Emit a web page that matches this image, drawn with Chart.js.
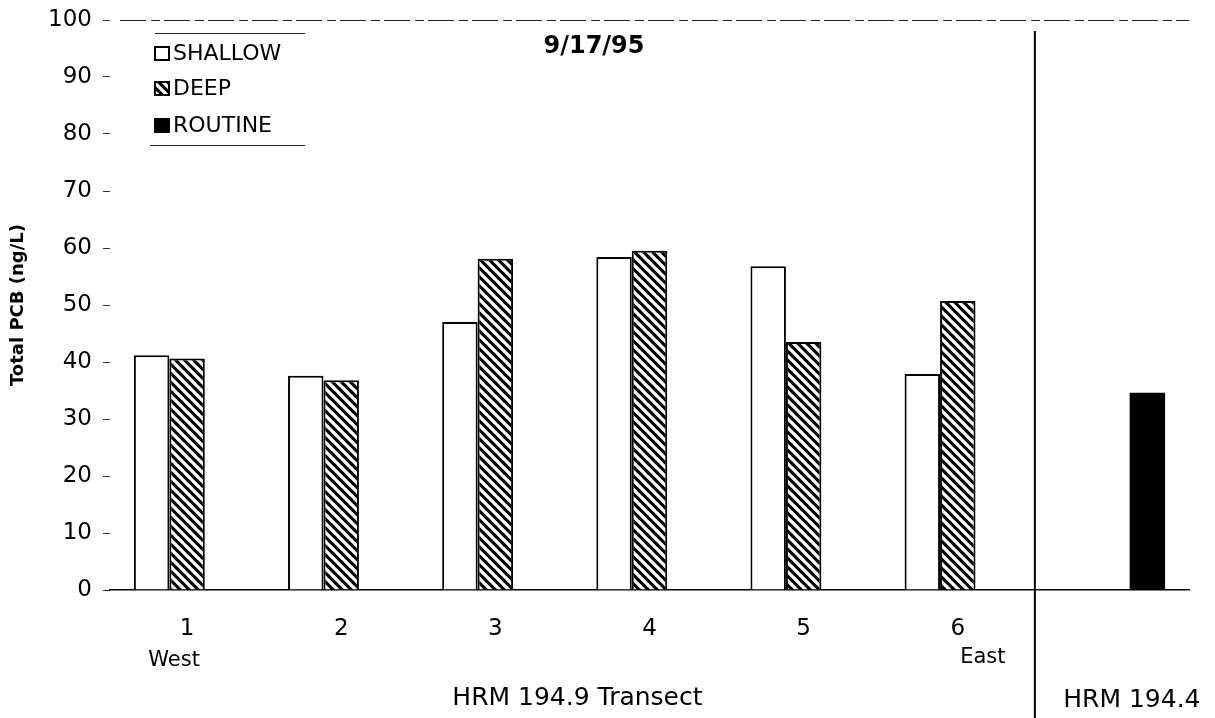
<!DOCTYPE html>
<html>
<head>
<meta charset="utf-8">
<script src="https://cdn.jsdelivr.net/npm/chart.js@4.4.1/dist/chart.umd.min.js"></script>
<style>
  html, body { margin: 0; padding: 0; background: #fff; }
  #wrap { width: 1215px; height: 718px; }
</style>
</head>
<body>
<div id="wrap"><canvas id="myChart" width="1215" height="718"></canvas></div>
<script>
const categories = ["1", "2", "3", "4", "5", "6", ""];
const shallow = [41.2, 37.6, 47.0, 58.4, 56.8, 37.9, null];
const deep = [40.6, 36.8, 58.1, 59.5, 43.5, 50.7, null];
const routine = [null, null, null, null, null, null, 34.6];
const yTicks = [0, 10, 20, 30, 40, 50, 60, 70, 80, 90, 100];

const FONT = "'DejaVu Sans', 'Liberation Sans', sans-serif";

// diagonal hatch for the DEEP series
function makeHatch() {
  const s = 9;
  const c = document.createElement("canvas");
  c.width = s;
  c.height = s;
  const g = c.getContext("2d");
  g.fillStyle = "#000";
  g.fillRect(0, 0, s, s);
  g.strokeStyle = "#fff";
  g.lineWidth = 3.3;
  g.beginPath();
  for (let k = -1; k <= 1; k++) {
    g.moveTo(k * s - 1, -1);
    g.lineTo(k * s + s + 1, s + 1);
  }
  g.stroke();
  return g.createPattern(c, "repeat");
}
const hatch = makeHatch();

const extrasPlugin = {
  id: "extras",
  afterDraw(chart) {
    const ctx = chart.ctx;
    const area = chart.chartArea;
    const x = chart.scales.x;
    ctx.save();

    // broken frame line on top
    ctx.strokeStyle = "#222";
    ctx.lineWidth = 1;
    ctx.setLineDash([26, 5, 9, 4]);
    ctx.beginPath();
    ctx.moveTo(area.left + 10, area.top + 0.5);
    ctx.lineTo(area.right, area.top + 0.5);
    ctx.stroke();
    ctx.setLineDash([]);

    // separator between transect and routine station
    const sep = (x.getPixelForValue(5) + x.getPixelForValue(6)) / 2;
    ctx.strokeStyle = "#000";
    ctx.lineWidth = 2;
    ctx.beginPath();
    ctx.moveTo(sep, area.top + 11);
    ctx.lineTo(sep, chart.height);
    ctx.stroke();

    // title
    ctx.fillStyle = "#000";
    ctx.font = "bold 24px " + FONT;
    ctx.textAlign = "center";
    ctx.textBaseline = "middle";
    ctx.fillText("9/17/95", 594, area.top + 27);

    // West / East under the end stations
    ctx.font = "21px " + FONT;
    ctx.fillText("West", x.getPixelForValue(0) - 13, area.bottom + 71);
    ctx.fillText("East", x.getPixelForValue(5) + 25, area.bottom + 68);

    // group labels
    ctx.font = "25px " + FONT;
    ctx.fillText("HRM 194.9 Transect", (x.getPixelForValue(0) + x.getPixelForValue(5)) / 2 + 5, area.bottom + 108);
    ctx.fillText("HRM 194.4", sep + 97, area.bottom + 110);

    // legend
    const lx = area.left + 45;
    const rows = [area.top + 33, area.top + 68, area.top + 105];
    ctx.strokeStyle = "#222";
    ctx.lineWidth = 1;
    ctx.beginPath();
    ctx.moveTo(lx, area.top + 13.5);
    ctx.lineTo(lx + 150, area.top + 13.5);
    ctx.moveTo(lx - 5, area.top + 125.5);
    ctx.lineTo(lx + 150, area.top + 125.5);
    ctx.stroke();
    chart.data.datasets.forEach((ds, i) => {
      const y = rows[i];
      ctx.fillStyle = ds.backgroundColor;
      ctx.fillRect(lx, y - 6, 14, 13);
      ctx.strokeStyle = "#000";
      ctx.lineWidth = 2;
      ctx.strokeRect(lx, y - 6, 14, 13);
      ctx.fillStyle = "#000";
      ctx.font = "22px " + FONT;
      ctx.textAlign = "left";
      ctx.fillText(ds.label, lx + 18, y + 1);
    });

    ctx.restore();
  }
};

new Chart(document.getElementById("myChart"), {
  type: "bar",
  data: {
    labels: categories,
    datasets: [
      { label: "SHALLOW", data: shallow, backgroundColor: "#fff", borderColor: "#000", borderWidth: 2 },
      { label: "DEEP", data: deep, backgroundColor: hatch, borderColor: "#000", borderWidth: 2 },
      { label: "ROUTINE", data: routine, backgroundColor: "#000", borderColor: "#000", borderWidth: 0 }
    ]
  },
  plugins: [extrasPlugin],
  options: {
    responsive: false,
    animation: false,
    devicePixelRatio: 1,
    layout: { padding: { top: 20, right: 26, left: 0, bottom: 0 } },
    datasets: { bar: { barPercentage: 1, categoryPercentage: 0.69 } },
    plugins: {
      legend: { display: false },
      tooltip: { enabled: false },
      title: { display: false }
    },
    scales: {
      x: {
        afterFit: (s) => { s.height = 128; },
        grid: { display: false },
        border: { display: true, color: "#000", width: 1.5 },
        ticks: {
          color: "#000",
          padding: 17,
          maxRotation: 0,
          font: { family: FONT, size: 23 }
        }
      },
      y: {
        min: 0,
        max: 100,
        afterFit: (s) => { s.width = 110; s.paddingTop = 0; s.paddingBottom = 0; },
        afterBuildTicks: (s) => { s.ticks = yTicks.map((v) => ({ value: v })); },
        grid: { drawOnChartArea: false, tickLength: 7, color: "#333", lineWidth: 1 },
        border: { display: false },
        title: {
          display: true,
          text: "Total PCB (ng/L)",
          color: "#000",
          font: { family: FONT, size: 18, weight: "bold" },
          padding: { top: 8, bottom: 0 }
        },
        ticks: {
          color: "#000",
          padding: 11,
          font: { family: FONT, size: 23 }
        }
      }
    }
  }
});
</script>
</body>
</html>
